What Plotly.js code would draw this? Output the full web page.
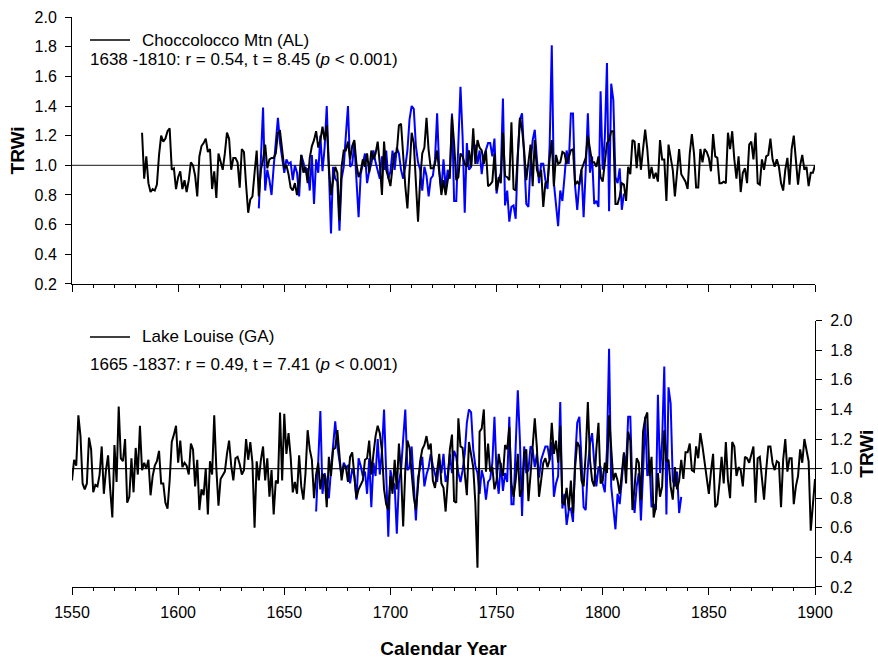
<!DOCTYPE html>
<html>
<head>
<meta charset="utf-8">
<script src="https://cdn.plot.ly/plotly-3.0.1.min.js"></script>
<style>html,body{margin:0;padding:0;background:#fff;}#chart{width:878px;height:659px;}</style>
</head>
<body>
<div id="chart"></div>
<script>
// ---- Data (TRWi values) ----
const topBlackStart = 1583;   // Choccolocco Mtn (AL)
const topBlack = [
  1.22, 0.91, 1.06, 0.88, 0.82, 0.84, 0.83,
  0.87, 1.07, 1.20, 1.16, 1.18, 1.23, 1.25, 0.97, 0.98, 0.84,
  0.92, 0.96, 0.84, 0.90, 0.82, 0.90, 1.02, 1.00, 0.93, 0.79,
  1.06, 1.13, 1.15, 1.18, 1.09, 1.11, 0.84, 0.96, 0.78, 1.08,
  1.02, 0.97, 1.08, 1.22, 1.18, 0.97, 1.05, 1.05, 1.02, 0.85,
  1.11, 1.09, 0.87, 0.68, 0.77, 0.79, 0.95, 1.10, 0.79, 0.97,
  1.04, 1.14, 0.98, 1.04, 1.05, 1.05, 1.08, 1.22, 1.23, 1.11,
  0.98, 1.00, 0.94, 0.85, 0.83, 0.88, 0.80, 0.90, 1.07, 0.95,
  0.99, 0.88, 1.05, 1.13, 1.17, 1.23, 1.12, 1.17, 1.26, 1.17,
  1.27, 0.99, 0.80, 0.90, 0.99, 0.95, 0.63, 0.99, 1.10, 1.10,
  1.16, 1.04, 1.13, 1.17, 1.01, 0.92, 0.96, 1.04, 0.99, 1.08,
  0.95, 1.10, 1.04, 1.08, 1.16, 1.01, 0.80, 1.16, 0.97, 0.92,
  0.86, 0.99, 1.08, 1.09, 1.27, 1.28, 1.06, 0.86, 0.71, 0.94,
  1.22, 1.15, 0.88, 0.62, 0.90, 1.08, 1.12, 1.32, 1.10, 0.98,
  0.98, 1.01, 1.10, 0.92, 0.80, 0.90, 0.80, 0.90, 0.95, 1.33,
  1.15, 0.90, 0.92, 1.08, 1.06, 1.01, 0.99, 1.10, 0.99, 1.25,
  1.01, 1.17, 1.12, 1.10, 1.01, 1.10, 0.86, 0.87, 0.89, 1.08,
  0.83, 0.92, 0.88, 1.22, 0.93, 0.92, 0.90, 1.29, 0.84, 0.83,
  1.08, 1.32, 1.24, 1.10, 0.90, 1.01, 1.14, 0.86, 1.17, 0.97,
  0.92, 0.97, 0.72, 0.88, 0.89, 1.04, 1.17, 0.86, 1.07, 1.01,
  1.02, 1.09, 1.08, 1.01, 1.05, 1.10, 1.11, 0.87, 0.89, 0.87,
  0.97, 1.01, 1.05, 1.20, 1.11, 1.02, 1.02, 0.99, 1.06, 0.92,
  0.89, 1.04, 1.15, 1.17, 1.23, 1.23, 0.74, 0.74, 0.79, 0.88,
  0.87, 0.76, 0.99, 0.94, 1.17, 1.16, 0.98, 1.15, 0.97, 1.11,
  1.24, 1.11, 0.91, 0.99, 0.91, 0.95, 0.89, 1.17, 1.04, 1.04,
  0.76, 1.14, 1.05, 0.97, 0.79, 0.98, 1.11, 0.94, 0.91, 0.89,
  0.84, 1.08, 1.21, 1.08, 0.85, 0.85, 1.11, 1.02, 1.11, 1.09,
  1.05, 0.96, 1.21, 1.06, 1.05, 0.88, 0.88, 0.89, 0.88, 1.22,
  1.11, 1.23, 1.04, 0.91, 1.06, 0.82, 0.95, 0.98, 0.88, 1.14,
  1.16, 1.04, 1.22, 0.88, 0.87, 1.04, 0.97, 1.06, 1.07, 1.18,
  1.04, 0.99, 1.04, 0.99, 0.88, 0.83, 0.97, 1.05, 0.87, 1.11,
  1.20, 1.04, 0.87, 1.00, 1.07, 0.97, 0.99, 0.86, 0.95, 0.95,
  1.00
];

// Floating (blue) chronology, shown at two candidate placements
const blueTopStart = 1638;
const blueBottomStart = 1665;
const blueSeries = [
  0.71, 1.05,
  1.39, 0.83, 0.97, 0.90, 0.80, 0.99, 1.15, 1.32, 1.15, 1.06,
  0.95, 1.04, 1.01, 1.02, 0.90, 1.00, 0.95, 0.79, 1.07, 1.02,
  0.95, 0.98, 0.83, 1.07, 0.74, 1.04, 0.95, 1.20, 0.96, 1.12,
  1.40, 0.97, 0.54, 0.99, 0.91, 0.89, 0.56, 0.91, 0.99, 1.20,
  1.40, 0.99, 1.01, 1.15, 0.91, 0.65, 0.94, 1.01, 1.08, 0.88,
  0.96, 1.01, 1.10, 1.02, 0.96, 0.91, 1.06, 0.97, 1.10, 0.91,
  0.96, 1.10, 0.97, 1.12, 1.08, 0.97, 0.91, 0.99, 1.10, 1.31,
  1.40, 1.38, 1.13, 1.02, 0.97, 0.83, 0.99, 0.93, 0.79, 0.91,
  0.93, 1.04, 1.35, 0.97, 0.83, 1.04, 0.85, 0.97, 0.91, 1.35,
  0.76, 0.76, 1.15, 1.53, 1.19, 0.68, 1.15, 0.97, 0.99, 1.15,
  1.13, 1.01, 1.10, 0.94, 1.06, 1.10, 1.15, 1.15, 1.06, 1.18,
  0.81, 0.90, 0.95, 1.45, 0.73, 0.83, 0.62, 0.72, 0.73, 0.64,
  1.06, 1.31, 1.35, 1.06, 0.74, 0.72, 1.01, 1.17, 1.24, 1.04,
  0.88, 1.01, 1.01, 0.90, 0.84, 1.13, 1.81, 0.88, 0.72, 0.59,
  0.83, 0.76, 0.92, 1.10, 1.01, 1.35, 1.35, 0.86, 0.70, 0.88,
  0.97, 0.65, 0.97, 1.35, 0.95, 1.06, 0.74, 0.76, 0.72, 1.50,
  0.97, 1.19, 1.69, 0.69, 1.55, 1.44, 0.92, 0.88, 0.98, 0.70,
  0.81
];

const bottomBlackStart = 1550;  // Lake Louise (GA)
const bottomBlack = [
  0.92, 1.06, 1.02, 1.36, 1.22, 0.90, 0.86, 0.90, 1.21, 1.13,
  0.84, 0.89, 0.88, 0.96, 1.15, 0.83, 0.99, 1.09, 0.86, 0.67,
  1.16, 0.91, 1.42, 1.07, 1.05, 1.20, 0.77, 0.81, 1.07, 0.84,
  1.14, 0.96, 1.29, 0.99, 1.04, 1.00, 1.06, 0.82, 0.95, 1.02,
  1.05, 1.12, 0.90, 0.90, 0.77, 0.73, 0.92, 1.18, 1.23, 1.29,
  1.04, 1.19, 1.01, 1.04, 1.02, 0.96, 1.17, 1.13, 0.88, 1.06,
  0.72, 0.86, 0.82, 1.00, 0.69, 1.05, 0.96, 1.36, 1.00, 0.75,
  0.93, 0.96, 0.98, 1.10, 1.19, 1.02, 0.92, 1.07, 1.08, 1.03,
  0.96, 0.99, 1.20, 1.06, 1.18, 1.04, 0.60, 1.05, 0.92, 1.06,
  1.15, 0.92, 1.07, 0.81, 0.99, 0.69, 0.92, 0.90, 1.38, 0.92,
  1.37, 1.10, 1.24, 1.08, 0.84, 0.91, 0.83, 1.09, 0.88, 0.79,
  0.97, 1.26, 1.13, 1.06, 0.80, 0.96, 1.04, 0.86, 0.96, 0.95,
  0.74, 1.08, 0.95, 1.13, 1.14, 1.26, 1.06, 0.92, 1.02, 1.01,
  0.91, 1.08, 1.11, 0.95, 0.80, 0.86, 0.89, 0.92, 1.06, 1.07,
  1.19, 0.96, 1.10, 1.22, 1.29, 1.24, 1.12, 0.86, 0.76, 0.72,
  0.95, 0.83, 1.06, 0.86, 1.17, 0.97, 0.61, 0.99, 1.19, 1.14,
  0.97, 0.81, 0.72, 0.92, 1.05, 1.13, 1.16, 1.22, 1.13, 1.17,
  0.92, 0.87, 0.97, 1.10, 0.90, 0.87, 0.71, 0.92, 1.13, 1.23,
  0.78, 0.77, 1.34, 1.15, 1.14, 0.97, 0.82, 1.18, 1.10, 1.01,
  0.77, 0.33, 1.25, 1.27, 1.40, 0.98, 1.17, 0.98, 1.01, 0.86,
  0.92, 1.10, 1.01, 0.95, 1.16, 1.13, 1.28, 0.90, 0.81, 0.92,
  1.10, 0.81, 0.86, 1.10, 1.13, 0.78, 0.96, 1.15, 1.34, 1.14,
  0.81, 0.92, 1.04, 1.07, 1.01, 1.06, 1.31, 1.10, 1.19, 1.04,
  1.29, 0.77, 0.76, 0.87, 0.72, 0.92, 0.70, 1.01, 1.18, 1.15,
  0.92, 0.88, 1.10, 1.45, 1.06, 0.92, 0.88, 1.13, 1.31, 0.90,
  0.92, 1.04, 0.97, 1.36, 1.15, 0.92, 0.97, 0.92, 0.83, 0.99,
  1.11, 0.90, 1.25, 1.19, 0.72, 0.87, 1.07, 1.04, 0.79, 1.25,
  1.34, 1.38, 0.95, 1.08, 0.67, 0.74, 0.97, 0.81, 0.88, 1.26,
  1.05, 1.06, 0.88, 0.79, 1.01, 0.86, 0.92, 1.06, 0.93, 1.11,
  1.11, 1.17, 0.99, 0.98, 1.15, 1.07, 1.24, 1.15, 1.04, 0.95,
  0.83, 0.98, 1.10, 0.74, 0.76, 0.90, 1.08, 0.90, 1.18, 0.92,
  0.80, 1.18, 1.15, 0.95, 1.01, 0.99, 0.88, 1.08, 1.07, 1.04,
  1.09, 1.15, 0.77, 1.07, 1.08, 0.92, 0.79, 0.99, 1.15, 1.15,
  1.04, 0.99, 1.05, 1.04, 0.74, 1.06, 1.20, 0.98, 1.07, 1.07,
  0.76, 0.88, 0.95, 1.13, 1.04, 1.20, 1.13, 1.05, 0.58, 0.79,
  0.93
];

// Axes / labels
const xRange = [1550, 1900];
const yRange = [0.2, 2.0];
const xTickVals = [1550, 1600, 1650, 1700, 1750, 1800, 1850, 1900];
const yTickVals = [0.2, 0.4, 0.6, 0.8, 1.0, 1.2, 1.4, 1.6, 1.8, 2.0];
const referenceValue = 1.0;
const topSiteName = 'Choccolocco Mtn (AL)';
const topStats = '1638 -1810: r = 0.54, t = 8.45 (<i>p</i> &lt; 0.001)';
const bottomSiteName = 'Lake Louise (GA)';
const bottomStats = '1665 -1837: r = 0.49, t = 7.41 (<i>p</i> &lt; 0.001)';
const yTitle = 'TRWi';
const xTitle = 'Calendar Year';

// ---- Build ----
function yearsFrom(start, n) { return Array.from({length: n}, (_, i) => start + i); }

const traces = [
  {x: yearsFrom(blueTopStart, blueSeries.length), y: blueSeries, xaxis: 'x', yaxis: 'y',
   type: 'scatter', mode: 'lines', line: {color: '#0000FF', width: 2}, name: 'Floating'},
  {x: yearsFrom(topBlackStart, topBlack.length), y: topBlack, xaxis: 'x', yaxis: 'y',
   type: 'scatter', mode: 'lines', line: {color: '#000000', width: 2}, name: topSiteName},
  {x: yearsFrom(blueBottomStart, blueSeries.length), y: blueSeries, xaxis: 'x2', yaxis: 'y2',
   type: 'scatter', mode: 'lines', line: {color: '#0000FF', width: 2}, name: 'Floating'},
  {x: yearsFrom(bottomBlackStart, bottomBlack.length), y: bottomBlack, xaxis: 'x2', yaxis: 'y2',
   type: 'scatter', mode: 'lines', line: {color: '#000000', width: 2}, name: bottomSiteName}
];

const FONT = 'Liberation Sans, Arial, Helvetica, sans-serif';
const xCommon = {
  range: xRange, tickvals: xTickVals, ticks: 'outside', ticklen: 7, tickwidth: 1, tickcolor: '#000',
  showline: true, linecolor: '#000', linewidth: 1, showgrid: false, zeroline: false,
  minor: {dtick: 10, tick0: 1550, ticks: 'outside', ticklen: 3, tickwidth: 1, tickcolor: '#000', showgrid: false},
  tickfont: {size: 16, color: '#000', family: FONT}
};
const yCommon = {
  range: yRange, tickvals: yTickVals, tickformat: '.1f', ticks: 'outside', ticklen: 6, tickwidth: 1,
  tickcolor: '#000', showline: true, linecolor: '#000', linewidth: 1, showgrid: false, zeroline: false,
  tickfont: {size: 16, color: '#000', family: FONT}, ticklabelstandoff: 5
};
const titleFont = {size: 19, family: FONT, color: '#000'};
const legendFont = {size: 17, family: FONT, color: '#000'};

const layout = {
  width: 878, height: 659,
  margin: {l: 72, r: 63, t: 17, b: 72},
  paper_bgcolor: '#ffffff', plot_bgcolor: '#ffffff',
  showlegend: false,
  font: {family: FONT, size: 16, color: '#000'},
  xaxis: Object.assign({}, xCommon, {domain: [0, 1], anchor: 'y', showticklabels: false}),
  yaxis: Object.assign({}, yCommon, {domain: [0.5316, 1], anchor: 'x', side: 'left'}),
  xaxis2: Object.assign({}, xCommon, {domain: [0, 1], anchor: 'y2', showticklabels: true, ticklabelstandoff: 4,
    title: {text: '<b>' + xTitle + '</b>', font: titleFont, standoff: 21}}),
  yaxis2: Object.assign({}, yCommon, {domain: [0, 0.4672], anchor: 'x2', side: 'right'}),
  shapes: [
    {type: 'line', xref: 'x', yref: 'y', x0: xRange[0], x1: xRange[1], y0: referenceValue, y1: referenceValue,
     line: {color: '#444', width: 1.2}, layer: 'below'},
    {type: 'line', xref: 'x2', yref: 'y2', x0: xRange[0], x1: xRange[1], y0: referenceValue, y1: referenceValue,
     line: {color: '#222', width: 1.2}, layer: 'below'},
    // legend line samples
    {type: 'line', xref: 'paper', yref: 'paper', x0: 0.0242, x1: 0.0781, y0: 0.9596, y1: 0.9596,
     line: {color: '#000', width: 1.5}},
    {type: 'line', xref: 'paper', yref: 'paper', x0: 0.0242, x1: 0.0781, y0: 0.4386, y1: 0.4386,
     line: {color: '#000', width: 1.5}}
  ],
  annotations: [
    // y-axis titles
    {xref: 'paper', yref: 'paper', x: -0.0727, y: 0.7658, xanchor: 'center', yanchor: 'middle',
     text: '<b>' + yTitle + '</b>', textangle: -90, showarrow: false, font: titleFont},
    {xref: 'paper', yref: 'paper', x: 1.070, y: 0.2339, xanchor: 'center', yanchor: 'middle',
     text: '<b>' + yTitle + '</b>', textangle: -90, showarrow: false, font: titleFont},
    // legend texts
    {xref: 'paper', yref: 'paper', x: 0.0915, y: 0.9596, xanchor: 'left', yanchor: 'middle',
     text: topSiteName, showarrow: false, font: legendFont},
    {xref: 'paper', yref: 'paper', x: 0.0215, y: 0.9246, xanchor: 'left', yanchor: 'middle',
     text: topStats, showarrow: false, font: legendFont},
    {xref: 'paper', yref: 'paper', x: 0.0915, y: 0.4386, xanchor: 'left', yanchor: 'middle',
     text: bottomSiteName, showarrow: false, font: legendFont},
    {xref: 'paper', yref: 'paper', x: 0.0215, y: 0.3895, xanchor: 'left', yanchor: 'middle',
     text: bottomStats, showarrow: false, font: legendFont}
  ]
};

Plotly.newPlot('chart', traces, layout, {staticPlot: true, displayModeBar: false});
</script>
</body>
</html>
